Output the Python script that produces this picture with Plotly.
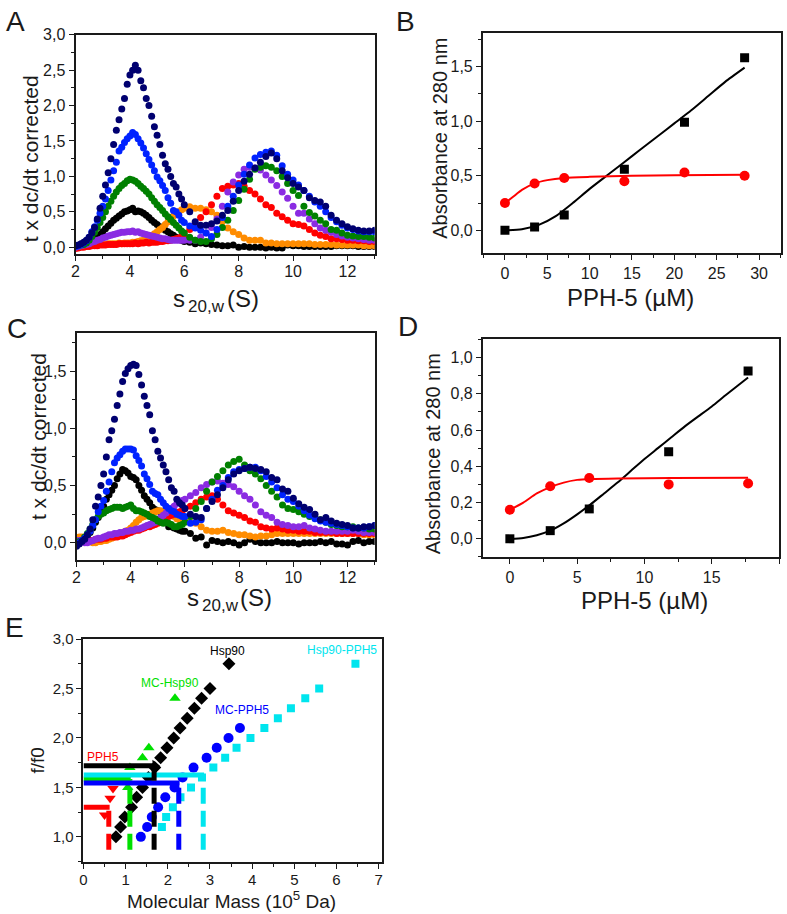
import plotly.graph_objects as go

FONT = "Liberation Sans, Arial, sans-serif"
INK = "#1a1a1a"

# ---- panels A and C: sedimentation distributions (s20,w grid, S) ----
S_GRID = [2.0, 2.1, 2.2, 2.3, 2.4, 2.5, 2.6, 2.7, 2.8, 2.9,
          3.0, 3.1, 3.2, 3.3, 3.4, 3.5, 3.6, 3.7, 3.8, 3.9,
          4.0, 4.1, 4.2, 4.3, 4.4, 4.5, 4.6, 4.7, 4.8, 4.9,
          5.0, 5.1, 5.2, 5.3, 5.4, 5.5, 5.6, 5.7, 5.8, 5.9,
          6.0,
          6.2, 6.4, 6.6, 6.8, 7.0, 7.2, 7.4, 7.6, 7.8, 8.0,
          8.2, 8.4, 8.6, 8.8, 9.0, 9.2, 9.4, 9.6, 9.8, 10.0,
          10.2, 10.4, 10.6, 10.8, 11.0, 11.2, 11.4, 11.6, 11.8, 12.0,
          12.2, 12.4, 12.6, 12.8, 13.0]

A_NAVY = [0.02, 0.03, 0.05, 0.07, 0.10, 0.14, 0.20, 0.28, 0.40, 0.55,
          0.72, 0.88, 1.05, 1.25, 1.45, 1.65, 1.80, 1.95, 2.10, 2.30,
          2.43, 2.50, 2.57, 2.50, 2.35, 2.25, 2.10, 2.00, 1.85, 1.70,
          1.58, 1.45, 1.30, 1.18, 1.10, 1.00, 0.90, 0.85, 0.75, 0.68,
          0.60,
          0.50, 0.36, 0.31, 0.31, 0.33, 0.37, 0.45, 0.52, 0.65, 0.80,
          0.93, 1.03, 1.12, 1.20, 1.28, 1.33, 1.25, 1.08, 0.98, 0.90,
          0.85, 0.80, 0.70, 0.66, 0.64, 0.58, 0.45, 0.38, 0.33, 0.29,
          0.26, 0.24, 0.23, 0.23, 0.24]
A_BLUE = [0.01, 0.02, 0.04, 0.06, 0.09, 0.14, 0.22, 0.29, 0.38, 0.48,
          0.58, 0.68, 0.80, 0.95, 1.08, 1.20, 1.36, 1.41, 1.48, 1.53,
          1.57, 1.62, 1.59, 1.53, 1.47, 1.40, 1.32, 1.24, 1.16, 1.08,
          0.99, 0.94, 0.87, 0.80, 0.70, 0.62, 0.52, 0.50, 0.45, 0.38,
          0.35,
          0.30, 0.27, 0.24, 0.20, 0.15, 0.25, 0.42, 0.58, 0.72, 0.88,
          1.03, 1.16, 1.26, 1.31, 1.34, 1.36, 1.30, 1.15, 1.03, 0.95,
          0.88, 0.80, 0.72, 0.64, 0.58, 0.50, 0.42, 0.36, 0.31, 0.27,
          0.25, 0.23, 0.22, 0.22, 0.22]
A_GREEN = [0.02, 0.02, 0.03, 0.04, 0.06, 0.10, 0.15, 0.21, 0.28, 0.35,
           0.42, 0.50, 0.58, 0.65, 0.72, 0.78, 0.83, 0.87, 0.90, 0.94,
           0.96, 0.95, 0.93, 0.90, 0.86, 0.83, 0.79, 0.75, 0.70, 0.65,
           0.60, 0.56, 0.52, 0.47, 0.43, 0.39, 0.35, 0.31, 0.27, 0.23,
           0.20,
           0.14, 0.10, 0.08, 0.08, 0.12, 0.18, 0.28, 0.38, 0.52, 0.66,
           0.82, 0.96, 1.10, 1.13, 1.15, 1.13, 1.08, 1.00, 0.90, 0.80,
           0.73, 0.58, 0.49, 0.44, 0.38, 0.33, 0.25, 0.24, 0.20, 0.17,
           0.16, 0.15, 0.15, 0.14, 0.13]
A_BLACK = [0.00, 0.00, 0.01, 0.02, 0.03, 0.05, 0.08, 0.11, 0.15, 0.18,
           0.22, 0.26, 0.30, 0.34, 0.38, 0.41, 0.44, 0.47, 0.50, 0.51,
           0.53, 0.55, 0.50, 0.51, 0.50, 0.48, 0.45, 0.42, 0.38, 0.35,
           0.32, 0.29, 0.27, 0.24, 0.22, 0.19, 0.17, 0.14, 0.12, 0.10,
           0.08,
           0.07, 0.05, 0.06, 0.05, 0.04, 0.03, 0.02, 0.02, 0.03, 0.00,
           0.01, 0.00, 0.00, 0.00, -0.01, 0.00, -0.01, -0.01, 0.03, 0.02,
           0.02, 0.01, 0.01, 0.01, 0.01, 0.01, 0.01, 0.02, 0.02, 0.02,
           0.02, 0.01, 0.01, 0.01, 0.01]
A_PURPLE = [0.00, 0.01, 0.02, 0.03, 0.04, 0.05, 0.07, 0.08, 0.10, 0.11,
            0.13, 0.14, 0.16, 0.17, 0.18, 0.19, 0.20, 0.21, 0.21, 0.22,
            0.22, 0.23, 0.21, 0.22, 0.20, 0.19, 0.18, 0.17, 0.16, 0.15,
            0.14, 0.13, 0.12, 0.12, 0.11, 0.10, 0.10, 0.10, 0.10, 0.10,
            0.10,
            0.10, 0.10, 0.14, 0.20, 0.28, 0.40, 0.58, 0.78, 0.92, 1.02,
            1.10, 1.13, 1.12, 1.09, 1.02, 0.95, 0.87, 0.78, 0.69, 0.58,
            0.48, 0.48, 0.40, 0.33, 0.27, 0.24, 0.21, 0.18, 0.16, 0.14,
            0.13, 0.12, 0.11, 0.10, 0.10]
A_RED = [-0.02, -0.01, 0.00, 0.00, 0.01, 0.01, 0.02, 0.02, 0.02, 0.03,
         0.03, 0.03, 0.04, 0.04, 0.04, 0.04, 0.05, 0.05, 0.05, 0.05,
         0.05, 0.05, 0.06, 0.05, 0.06, 0.06, 0.07, 0.06, 0.07, 0.07,
         0.07, 0.08, 0.08, 0.09, 0.09, 0.10, 0.11, 0.12, 0.13, 0.15,
         0.17,
         0.25, 0.33, 0.42, 0.50, 0.60, 0.72, 0.83, 0.86, 0.88, 0.90,
         0.86, 0.80, 0.75, 0.68, 0.60, 0.56, 0.48, 0.43, 0.38, 0.33,
         0.32, 0.30, 0.25, 0.20, 0.17, 0.15, 0.12, 0.12, 0.11, 0.10,
         0.10, 0.09, 0.09, 0.08, 0.08]
A_ORANGE = [0.00, 0.00, 0.01, 0.01, 0.02, 0.02, 0.03, 0.03, 0.03, 0.04,
            0.04, 0.04, 0.05, 0.05, 0.05, 0.05, 0.06, 0.05, 0.06, 0.06,
            0.06, 0.07, 0.07, 0.08, 0.09, 0.10, 0.12, 0.14, 0.16, 0.19,
            0.22, 0.25, 0.28, 0.32, 0.36, 0.40, 0.44, 0.47, 0.50, 0.53,
            0.55,
            0.57, 0.55, 0.55, 0.53, 0.50, 0.45, 0.36, 0.27, 0.22, 0.18,
            0.13, 0.10, 0.10, 0.10, 0.06, 0.06, 0.05, 0.05, 0.05, 0.05,
            0.05, 0.05, 0.05, 0.04, 0.04, 0.04, 0.04, 0.03, 0.03, 0.03,
            0.03, 0.03, 0.02, 0.02, 0.02]

C_NAVY = [-0.03, -0.01, 0.01, 0.03, 0.07, 0.12, 0.20, 0.32, 0.40, 0.50,
          0.60, 0.75, 0.90, 0.98, 1.08, 1.20, 1.30, 1.41, 1.48, 1.52,
          1.55, 1.56, 1.55, 1.47, 1.38, 1.28, 1.20, 1.12, 0.98, 0.90,
          0.80, 0.74, 0.68, 0.62, 0.55, 0.48, 0.45, 0.38, 0.35, 0.33,
          0.30,
          0.25, 0.23, 0.22, 0.30, 0.36, 0.42, 0.48, 0.55, 0.60, 0.63,
          0.65, 0.66, 0.65, 0.64, 0.62, 0.57, 0.55, 0.47, 0.45, 0.39,
          0.34, 0.31, 0.29, 0.25, 0.20, 0.22, 0.19, 0.17, 0.16, 0.15,
          0.13, 0.13, 0.14, 0.14, 0.15]
C_BLUE = [-0.02, 0.00, 0.02, 0.04, 0.07, 0.10, 0.15, 0.20, 0.27, 0.32,
          0.37, 0.45, 0.53, 0.62, 0.70, 0.74, 0.77, 0.80, 0.82, 0.82,
          0.82, 0.81, 0.76, 0.72, 0.67, 0.60, 0.56, 0.51, 0.45, 0.43,
          0.42, 0.38, 0.35, 0.32, 0.30, 0.28, 0.27, 0.25, 0.24, 0.23,
          0.23,
          0.17, 0.18, 0.20, 0.30, 0.38, 0.46, 0.50, 0.57, 0.62, 0.64,
          0.65, 0.66, 0.66, 0.63, 0.58, 0.53, 0.48, 0.42, 0.38, 0.36,
          0.32, 0.28, 0.24, 0.21, 0.19, 0.18, 0.17, 0.16, 0.15, 0.14,
          0.13, 0.13, 0.13, 0.14, 0.15]
C_BLACK = [0.00, 0.00, 0.01, 0.03, 0.05, 0.09, 0.13, 0.18, 0.22, 0.27,
           0.32, 0.38, 0.42, 0.46, 0.50, 0.56, 0.60, 0.64, 0.63, 0.61,
           0.58, 0.57, 0.55, 0.50, 0.46, 0.41, 0.38, 0.35, 0.31, 0.29,
           0.28, 0.27, 0.24, 0.18, 0.14, 0.14, 0.13, 0.12, 0.11, 0.10,
           0.10,
           0.08, 0.04, 0.05, -0.02, 0.02, 0.01, 0.00, 0.01, 0.00, -0.02,
           0.00, 0.03, 0.01, 0.00, 0.00, 0.00, 0.01, 0.00, 0.00, 0.00,
           -0.01, 0.00, 0.00, 0.00, 0.01, 0.00, 0.01, -0.01, -0.01, -0.02,
           0.01, 0.02, 0.00, 0.01, 0.01]
C_GREEN = [0.00, 0.01, 0.02, 0.05, 0.08, 0.12, 0.16, 0.20, 0.23, 0.25,
           0.26, 0.28, 0.29, 0.30, 0.31, 0.31, 0.31, 0.30, 0.31, 0.32,
           0.33, 0.30, 0.28, 0.28, 0.27, 0.26, 0.25, 0.23, 0.22, 0.21,
           0.19, 0.18, 0.17, 0.18, 0.17, 0.16, 0.14, 0.14, 0.15, 0.16,
           0.18,
           0.23, 0.30, 0.36, 0.45, 0.53, 0.58, 0.63, 0.68, 0.71, 0.73,
           0.68, 0.63, 0.60, 0.56, 0.50, 0.45, 0.40, 0.33, 0.30, 0.29,
           0.27, 0.25, 0.23, 0.22, 0.20, 0.18, 0.16, 0.15, 0.14, 0.14,
           0.14, 0.13, 0.13, 0.12, 0.12]
C_PURPLE = [0.02, 0.02, 0.01, 0.00, 0.00, 0.01, 0.02, 0.03, 0.04, 0.04,
            0.05, 0.06, 0.07, 0.07, 0.08, 0.08, 0.09, 0.09, 0.10, 0.10,
            0.11, 0.11, 0.12, 0.12, 0.13, 0.14, 0.15, 0.16, 0.17, 0.18,
            0.20, 0.22, 0.24, 0.26, 0.28, 0.30, 0.32, 0.34, 0.36, 0.37,
            0.38,
            0.41, 0.44, 0.48, 0.51, 0.53, 0.54, 0.52, 0.51, 0.49, 0.45,
            0.41, 0.38, 0.33, 0.27, 0.24, 0.22, 0.18, 0.16, 0.15, 0.14,
            0.14, 0.15, 0.13, 0.12, 0.11, 0.10, 0.10, 0.10, 0.10, 0.10,
            0.11, 0.10, 0.09, 0.09, 0.09]
C_RED = [0.02, 0.02, 0.01, 0.01, 0.01, 0.02, 0.02, 0.03, 0.03, 0.03,
         0.04, 0.04, 0.05, 0.05, 0.05, 0.05, 0.06, 0.06, 0.07, 0.08,
         0.09, 0.10, 0.11, 0.11, 0.12, 0.13, 0.14, 0.14, 0.15, 0.16,
         0.17, 0.18, 0.20, 0.21, 0.23, 0.24, 0.25, 0.26, 0.27, 0.28,
         0.30,
         0.32, 0.35, 0.38, 0.40, 0.41, 0.38, 0.33, 0.28, 0.26, 0.24,
         0.22, 0.19, 0.18, 0.14, 0.13, 0.12, 0.13, 0.12, 0.11, 0.11,
         0.10, 0.10, 0.10, 0.09, 0.09, 0.09, 0.09, 0.08, 0.08, 0.08,
         0.08, 0.08, 0.08, 0.08, 0.08]
C_ORANGE = [0.04, 0.05, 0.05, 0.03, 0.02, 0.01, 0.00, 0.00, 0.01, 0.01,
            0.02, 0.02, 0.03, 0.04, 0.05, 0.06, 0.07, 0.08, 0.10, 0.11,
            0.13, 0.15, 0.18, 0.20, 0.22, 0.23, 0.24, 0.25, 0.26, 0.27,
            0.28, 0.28, 0.27, 0.27, 0.26, 0.24, 0.23, 0.21, 0.20, 0.19,
            0.19,
            0.18, 0.17, 0.14, 0.11, 0.10, 0.10, 0.11, 0.09, 0.08, 0.07,
            0.07, 0.06, 0.05, 0.06, 0.06, 0.07, 0.08, 0.08, 0.08, 0.08,
            0.08, 0.08, 0.08, 0.08, 0.08, 0.08, 0.08, 0.08, 0.08, 0.08,
            0.08, 0.08, 0.07, 0.07, 0.07]

# ---- panels B and D: absorbance at 280 nm vs PPH-5 ----
B_CONC = [0.0, 3.5, 7.0, 14.1, 21.2, 28.3]
B_BLACK = [0.00, 0.03, 0.14, 0.56, 0.99, 1.58]
B_RED = [0.25, 0.43, 0.48, 0.45, 0.53, 0.50]
B_FIT_X = [0, 2, 4, 6, 8, 10, 12, 14, 16, 18, 20, 22, 24, 26, 28.3]
B_FIT_BLACK = [0.0, 0.01, 0.05, 0.13, 0.25, 0.38, 0.50, 0.62, 0.74, 0.86, 0.98, 1.10, 1.23, 1.36, 1.49]
B_FIT_RED_X = [0, 1, 2, 3.5, 5, 7, 10, 15, 20, 28.3]
B_FIT_RED = [0.25, 0.31, 0.37, 0.43, 0.46, 0.48, 0.49, 0.50, 0.505, 0.51]

D_CONC = [0.0, 3.0, 5.9, 11.8, 17.7]
D_BLACK = [0.00, 0.045, 0.165, 0.48, 0.925]
D_RED = [0.16, 0.29, 0.335, 0.30, 0.305]
D_FIT_X = [0, 1, 2, 3, 4, 5, 6, 7, 8, 9, 10, 11, 12, 13, 14, 15, 16, 17.7]
D_FIT_BLACK = [0.0, 0.005, 0.02, 0.045, 0.085, 0.135, 0.19, 0.25, 0.31, 0.375, 0.44, 0.50, 0.56, 0.62, 0.675, 0.73, 0.79, 0.89]
D_FIT_RED_X = [0, 1, 2, 3, 4, 5, 6, 8, 12, 17.7]
D_FIT_RED = [0.16, 0.20, 0.25, 0.285, 0.31, 0.325, 0.33, 0.333, 0.335, 0.337]

# ---- panel E: f/f0 vs molecular mass (1e5 Da) ----
HSP90_M = [0.77, 0.88, 0.98, 1.14, 1.26, 1.40, 1.54, 1.69, 1.83, 1.98, 2.14, 2.29, 2.46, 2.63, 2.80, 3.00, 3.45]
HSP90_F = [1.0, 1.1, 1.2, 1.3, 1.4, 1.5, 1.6, 1.7, 1.8, 1.9, 2.0, 2.1, 2.2, 2.3, 2.4, 2.5, 2.75]
MCHSP_M = [1.05, 1.10, 1.40, 1.55, 2.17]
MCHSP_F = [1.5, 1.7, 1.8, 1.9, 2.4]
MCPPH_M = [1.36, 1.51, 1.62, 1.77, 1.94, 2.16, 2.35, 2.61, 2.92, 3.16, 3.44, 3.71]
MCPPH_F = [1.0, 1.1, 1.2, 1.3, 1.4, 1.5, 1.6, 1.7, 1.8, 1.9, 2.0, 2.1]
CPLX_M = [1.86, 1.96, 2.12, 2.30, 2.55, 2.81, 3.08, 3.36, 3.63, 3.96, 4.29, 4.61, 4.92, 5.26, 5.59, 6.45]
CPLX_F = [1.1, 1.2, 1.3, 1.4, 1.5, 1.6, 1.7, 1.8, 1.9, 2.0, 2.1, 2.2, 2.3, 2.4, 2.5, 2.75]
PPH5_M = [0.50, 0.63, 0.70]
PPH5_F = [1.22, 1.39, 1.49]
# experimental f/f0 and resulting mass for each species (drawn order)
EXP_NAMES = ["PPH5", "MC-Hsp90", "MC-PPH5", "Hsp90-PPH5", "Hsp90"]
EXP_F = [1.30, 1.585, 1.545, 1.625, 1.72]
EXP_M = [0.60, 1.10, 2.26, 2.84, 1.675]
E_FLOOR = 0.87

fig = go.Figure()


def dots(x, y, color, ax, size=7, symbol="circle"):
    fig.add_trace(go.Scatter(x=x, y=y, mode="markers", xaxis="x" + ax, yaxis="y" + ax,
                             marker=dict(size=size, color=color, symbol=symbol, line=dict(width=0)),
                             showlegend=False, hoverinfo="skip"))


def curve(x, y, color, ax):
    fig.add_trace(go.Scatter(x=x, y=y, mode="lines", xaxis="x" + ax, yaxis="y" + ax,
                             line=dict(color=color, width=2, shape="spline", smoothing=0.6),
                             showlegend=False, hoverinfo="skip"))


cols = {"black": "#000000", "orange": "#FF8C00", "red": "#FF0000", "purple": "#8A2BE2",
        "green": "#008000", "blue": "#0022FF", "navy": "#000070"}

for ax, series in [("", [A_BLACK, A_ORANGE, A_RED, A_PURPLE, A_GREEN, A_BLUE, A_NAVY]),
                   ("3", [C_BLACK, C_ORANGE, C_RED, C_PURPLE, C_GREEN, C_BLUE, C_NAVY])]:
    for name, ys in zip(["black", "orange", "red", "purple", "green", "blue", "navy"], series):
        dots(S_GRID, ys, cols[name], ax)

curve(B_FIT_X, B_FIT_BLACK, "#000000", "2")
curve(B_FIT_RED_X, B_FIT_RED, "#FF0000", "2")
dots(B_CONC, B_BLACK, "#000000", "2", size=9, symbol="square")
dots(B_CONC, B_RED, "#FF0000", "2", size=10)

curve(D_FIT_X, D_FIT_BLACK, "#000000", "4")
curve(D_FIT_RED_X, D_FIT_RED, "#FF0000", "4")
dots(D_CONC, D_BLACK, "#000000", "4", size=9, symbol="square")
dots(D_CONC, D_RED, "#FF0000", "4", size=10)

E_COL = {"PPH5": "#FF0000", "MC-Hsp90": "#00E000", "MC-PPH5": "#0000FF",
         "Hsp90-PPH5": "#00E5EE", "Hsp90": "#000000"}

dots(HSP90_M, HSP90_F, E_COL["Hsp90"], "5", size=10, symbol="diamond")
dots(CPLX_M, CPLX_F, E_COL["Hsp90-PPH5"], "5", size=8, symbol="square")
dots(MCPPH_M, MCPPH_F, E_COL["MC-PPH5"], "5", size=10)
dots(MCHSP_M, MCHSP_F, E_COL["MC-Hsp90"], "5", size=10, symbol="triangle-up")
dots(PPH5_M, PPH5_F, E_COL["PPH5"], "5", size=10, symbol="triangle-down")

for name, f, m in zip(EXP_NAMES, EXP_F, EXP_M):
    c = E_COL[name]
    fig.add_trace(go.Scatter(x=[m, m], y=[E_FLOOR, f], mode="lines", xaxis="x5", yaxis="y5",
                             line=dict(color=c, width=5, dash="16px,7px"),
                             showlegend=False, hoverinfo="skip"))
    fig.add_trace(go.Scatter(x=[0, m + 0.02], y=[f, f], mode="lines", xaxis="x5", yaxis="y5",
                             line=dict(color=c, width=5), showlegend=False, hoverinfo="skip"))
    if name == "Hsp90":
        fig.add_trace(go.Scatter(x=[m + 0.02], y=[f], mode="markers", xaxis="x5", yaxis="y5",
                                 marker=dict(size=10, symbol="triangle-right", color=c),
                                 showlegend=False, hoverinfo="skip"))

e_labels = [("Hsp90", 3.42, 2.88), ("MC-Hsp90", 2.04, 2.56), ("MC-PPH5", 3.76, 2.28),
            ("Hsp90-PPH5", 6.13, 2.89), ("PPH5", 0.47, 1.81)]
ann = []
for txt, x, y in e_labels:
    ann.append(dict(text=txt, x=x, y=y, xref="x5", yref="y5", showarrow=False,
                    font=dict(family=FONT, size=12, color=E_COL[txt])))


def paper_text(txt, px, py, size, angle=0, anchor=("center", "middle")):
    ann.append(dict(text=txt, x=px / 787, y=1 - py / 914, xref="paper", yref="paper",
                    showarrow=False, textangle=angle, xanchor=anchor[0], yanchor=anchor[1],
                    borderpad=0, font=dict(family=FONT, size=size, color=INK)))


def s20w_title(left, py):
    # "s" + subscript "20,w" + "(S)" as three pieces so they sit side by side
    paper_text("s", left, py, 24, anchor=("left", "middle"))
    paper_text("20,w", left + 15, py + 8, 17, anchor=("left", "middle"))
    paper_text("(S)", left + 54, py, 24, anchor=("left", "middle"))


for letter, px, py in [("A", 12, 13), ("B", 404, 13), ("C", 13, 323), ("D", 407, 321), ("E", 11, 625)]:
    paper_text(letter, px, py, 28)

paper_text("t x dc/dt corrected", 27, 151, 21, -90)
s20w_title(169, 293)
paper_text("Absorbance at 280 nm", 438, 131, 20, -90)
paper_text("PPH-5 (µM)", 631, 292, 24)
paper_text("t x dc/dt corrected", 34, 432, 21, -90)
s20w_title(183, 595)
paper_text("Absorbance at 280 nm", 432, 450, 20, -90)
paper_text("PPH-5 (µM)", 645, 598, 24)
paper_text("f/f0", 34, 760, 19, -90)
paper_text("Molecular Mass (10<sup>5</sup> Da)", 229, 901, 19)


def axis(domain, rng, dtick, minor, anchor, fmt=None, size=16, standoff=0):
    d = dict(domain=domain, range=rng, dtick=dtick, tick0=0, anchor=anchor,
             showline=True, linecolor=INK, linewidth=2, mirror=True,
             ticks="outside", ticklen=5, tickwidth=1.2, tickcolor=INK,
             ticklabelstandoff=standoff,
             minor=dict(dtick=minor, tick0=0, ticks="outside", ticklen=3, tickcolor=INK, showgrid=False),
             showgrid=False, zeroline=False,
             tickfont=dict(family=FONT, size=size, color=INK))
    if fmt:
        d["tickformat"] = fmt
    return d


fig.update_layout(
    width=787, height=914, margin=dict(l=0, r=0, t=0, b=0),
    paper_bgcolor="white", plot_bgcolor="white", separators=",.",
    showlegend=False, annotations=ann,
    xaxis=axis([72 / 787, 373 / 787], [2, 13], 2, 1, "y", standoff=-3),
    yaxis=axis([1 - 248 / 914, 1 - 26 / 914], [-0.1, 3.0], 0.5, 0.25, "x", ".1f"),
    xaxis2=axis([482 / 787, 782 / 787], [-2.6, 32.6], 5, 2.5, "y2"),
    yaxis2=axis([1 - 247 / 914, 1 - 24 / 914], [-0.21, 1.81], 0.5, 0.25, "x2", ".1f"),
    xaxis3=axis([73 / 787, 373 / 787], [2, 13], 2, 1, "y3", standoff=-3),
    yaxis3=axis([1 - 557 / 914, 1 - 328 / 914], [-0.15, 1.83], 0.5, 0.25, "x3", ".1f"),
    xaxis4=axis([482 / 787, 780 / 787], [-2, 20], 5, 2.5, "y4"),
    yaxis4=axis([1 - 554 / 914, 1 - 334 / 914], [-0.1, 1.1], 0.2, 0.1, "x4", ".1f"),
    xaxis5=axis([80 / 787, 380 / 787], [0, 7.07], 1, 0.5, "y5", size=15, standoff=-2),
    yaxis5=axis([1 - 862 / 914, 1 - 637 / 914], [0.75, 3.0], 0.5, 0.25, "x5", ".1f", size=15),
)

fig.write_html("out.html", config={"displayModeBar": False},
               post_script="document.body.style.margin='0px';")
